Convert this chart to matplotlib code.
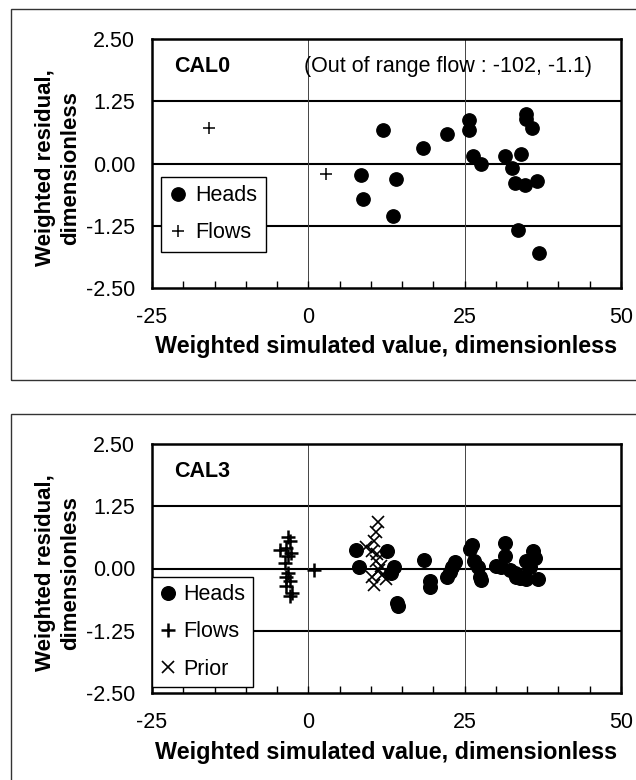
import numpy as np
import matplotlib
matplotlib.use('Agg')
import matplotlib.pyplot as plt
from matplotlib.patches import Rectangle
from matplotlib.ticker import FormatStrFormatter

plt.rcParams['font.family'] = ['Liberation Sans', 'DejaVu Sans']
plt.rcParams['axes.unicode_minus'] = False

# CAL0: weighted residuals vs weighted simulated values
heads0_x = [12.0, 8.5, 8.8, 14.0, 13.6, 18.4, 22.2, 25.7, 25.7, 26.4, 27.6,
            31.4, 32.5, 34.0, 33.0, 34.7, 36.6, 34.8, 34.8, 35.7, 33.5, 36.9]
heads0_y = [0.67, -0.24, -0.71, -0.31, -1.05, 0.31, 0.60, 0.87, 0.67, 0.15, 0.00,
            0.16, -0.10, 0.20, -0.39, -0.44, -0.35, 1.00, 0.90, 0.72, -1.34, -1.80]
flows0_x = [-15.9, 2.9]
flows0_y = [0.71, -0.21]

# CAL3
heads3_x = [7.6, 8.1, 12.6, 13.7, 13.2, 14.1, 14.4, 18.5, 19.4, 19.5,
            22.2, 22.6, 23.0, 23.4, 26.1, 25.9, 26.5, 27.1, 27.5, 27.6,
            30.0, 31.4, 31.5, 30.8, 32.2, 33.0, 33.2, 34.3, 33.8, 34.8,
            35.9, 36.2, 35.4, 36.7, 34.8]
heads3_y = [0.38, 0.03, 0.35, 0.03, -0.10, -0.69, -0.76, 0.18, -0.25, -0.37,
            -0.17, -0.08, 0.04, 0.13, 0.48, 0.40, 0.16, 0.03, -0.17, -0.24,
            0.06, 0.51, 0.26, 0.03, -0.04, -0.10, -0.17, -0.17, -0.20, 0.16,
            0.35, 0.22, 0.03, -0.22, -0.22]
flows3_x = [-3.3, -3.0, -4.6, -3.6, -2.8, -3.3, -3.8, -3.3, -3.6, -3.0, -3.6, -2.6, -2.9, 0.9]
flows3_y = [0.64, 0.55, 0.38, 0.42, 0.32, 0.25, 0.12, -0.10, -0.17, -0.26, -0.36, -0.49, -0.56, -0.04]
prior3_x = [11.2, 10.8, 10.5, 10.2, 9.2, 11.0, 10.8, 11.6, 11.3, 11.8, 10.2, 12.4, 10.5]
prior3_y = [0.94, 0.74, 0.55, 0.35, 0.44, 0.29, 0.16, 0.06, -0.04, -0.13, -0.17, -0.22, -0.33]

y_ticks = [-2.50, -1.25, 0.00, 1.25, 2.50]
x_ticks = [-25, 0, 25, 50]

W, H = 636, 780
FS = 15.5


def px_rect(left, top, right, bottom):
    # pixel box -> figure fraction [x, y, w, h]
    return [left / W, 1 - bottom / H, (right - left) / W, (bottom - top) / H]


def setup_axes(ax):
    ax.set_xlim(-25, 50)
    ax.set_ylim(-2.5, 2.5)
    ax.set_xticks(x_ticks)
    ax.set_xticks(np.arange(-25, 51, 5), minor=True)
    ax.set_yticks(y_ticks)
    ax.yaxis.set_major_formatter(FormatStrFormatter('%.2f'))
    ax.tick_params(axis='x', which='both', direction='in', length=5, width=1,
                   top=False, pad=14, labelsize=FS)
    ax.tick_params(axis='y', length=0, pad=12, labelsize=FS)
    for y in (-1.25, 0.0, 1.25):
        ax.axhline(y, color='black', lw=1.5, zorder=1)
    for x in (0, 25):
        ax.axvline(x, color='#444444', lw=0.7, zorder=1)
    for s in ax.spines.values():
        s.set_linewidth(1.8)


def add_labels(fig, top):
    fig.text(58 / W, 1 - (top + 159) / H, 'Weighted residual,\ndimensionless',
             rotation=90, ha='center', va='center', multialignment='center',
             fontsize=16, fontweight='bold', linespacing=1.25)
    fig.text(386 / W, 1 - (top + 338) / H, 'Weighted simulated value, dimensionless',
             ha='center', va='center', fontsize=16.8, fontweight='bold')


def main():
    fig = plt.figure(figsize=(W / 100, H / 100), dpi=100)

    # outer frames of the two charts
    for top, bottom in ((9, 380), (414, 795)):
        x, y, w, h = px_rect(11, top, 645, bottom)
        fig.add_artist(Rectangle((x, y), w, h, transform=fig.transFigure,
                                 fill=False, edgecolor='#333333', lw=1.0))

    # CAL0
    ax1 = fig.add_axes(px_rect(152, 39, 621, 288))
    setup_axes(ax1)
    h1, = ax1.plot(heads0_x, heads0_y, 'o', color='black', ms=9.6, zorder=3)
    f1, = ax1.plot(flows0_x, flows0_y, '+', color='black', ms=8, mew=1.1, zorder=3)
    ax1.text(-21.5, 1.95, 'CAL0', fontsize=FS, fontweight='bold', va='center')
    ax1.text(-0.7, 1.95, '(Out of range flow : -102, -1.1)', fontsize=FS, va='center')
    leg1 = ax1.legend([h1, f1], ['Heads', 'Flows'], loc='upper left',
                      bbox_to_anchor=(0.019, 0.447), borderaxespad=0,
                      fancybox=False, edgecolor='black', framealpha=1,
                      fontsize=FS, handlelength=0.8, handletextpad=0.4,
                      labelspacing=0.75, borderpad=0.4)
    leg1.get_frame().set_linewidth(1.0)
    add_labels(fig, 9)

    # CAL3
    ax2 = fig.add_axes(px_rect(152, 444, 621, 693))
    setup_axes(ax2)
    h2, = ax2.plot(heads3_x, heads3_y, 'o', color='black', ms=9.8, zorder=3)
    f2, = ax2.plot(flows3_x, flows3_y, '+', color='black', ms=10, mew=1.8, zorder=3)
    p2, = ax2.plot(prior3_x, prior3_y, 'x', color='black', ms=8.5, mew=1.2, zorder=3)
    ax2.text(-21.5, 1.95, 'CAL3', fontsize=FS, fontweight='bold', va='center')
    leg2 = ax2.legend([h2, f2, p2], ['Heads', 'Flows', 'Prior'], loc='upper left',
                      bbox_to_anchor=(0.0, 0.467), borderaxespad=0,
                      fancybox=False, edgecolor='black', framealpha=1,
                      fontsize=FS, handlelength=0.8, handletextpad=0.3,
                      labelspacing=0.75, borderpad=0.35)
    leg2.get_frame().set_linewidth(1.0)
    add_labels(fig, 414)

    fig.savefig('out.png', dpi=100)


if __name__ == '__main__':
    main()
